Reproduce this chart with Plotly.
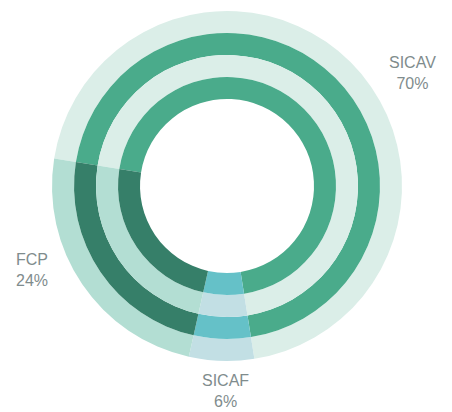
import plotly.graph_objects as go

categories = ["SICAV", "SICAF", "FCP"]
values = [70, 6, 24]
label_text = ["SICAV<br>70%", "SICAF<br>6%", "FCP<br>24%"]

light_colors = ["#dbeee8", "#c2dfe4", "#b3ded3"]
dark_colors = ["#4aab8b", "#65c1c8", "#367f69"]

W, H = 452, 412
cx, cy = 227, 186
radii = [175, 153, 131, 109, 87]

fig = go.Figure()
for i in range(4):
    ro, ri = radii[i], radii[i + 1]
    colors = light_colors if i % 2 == 0 else dark_colors
    fig.add_trace(go.Pie(
        labels=categories,
        values=values,
        sort=False,
        direction="clockwise",
        rotation=279,
        hole=ri / ro,
        marker=dict(colors=colors, line=dict(width=0)),
        textinfo="none",
        hoverinfo="skip",
        showlegend=False,
        domain=dict(x=[(cx - ro) / W, (cx + ro) / W],
                    y=[(H - cy - ro) / H, (H - cy + ro) / H]),
    ))

label_pos = [(412, 73), (225, 391), (32, 270)]
for txt, (x, y) in zip(label_text, label_pos):
    fig.add_annotation(
        x=x / W, y=1 - y / H, xref="paper", yref="paper",
        text=txt, showarrow=False,
        font=dict(family="Liberation Sans, Arial, sans-serif", size=16, color="#7f8c8d"),
        align="center", xanchor="center", yanchor="middle",
    )

fig.update_layout(
    width=W, height=H,
    margin=dict(l=0, r=0, t=0, b=0),
    paper_bgcolor="white", plot_bgcolor="white",
)
fig.write_html(
    "out.html",
    config={"displayModeBar": False},
    post_script="document.body.style.margin='0';document.body.style.padding='0';document.body.style.overflow='hidden';",
)
